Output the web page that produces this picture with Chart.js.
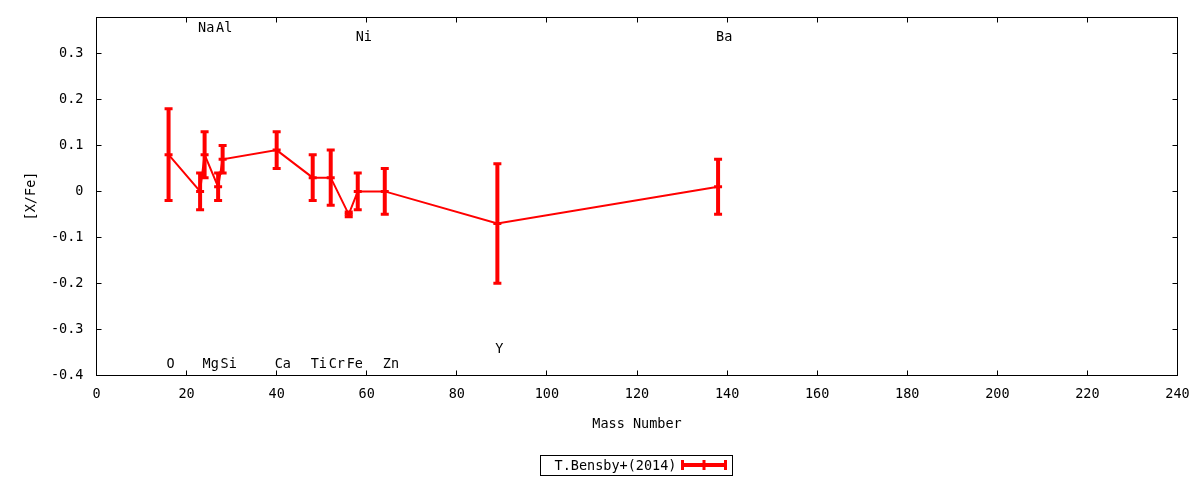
<!DOCTYPE html>
<html lang="en">
<head>
  <meta charset="UTF-8">
  <title>[X/Fe] vs Mass Number</title>
  <style>
    html, body { margin: 0; padding: 0; background: #fff; }
    #wrap { width: 1200px; height: 480px; }
  </style>
</head>
<body>
  <div id="wrap"><canvas id="chart" width="1200" height="480"></canvas></div>
  <script src="https://cdn.jsdelivr.net/npm/chart.js"></script>
  <script>
    // data
    const elements   = ['O', 'Na', 'Mg', 'Al', 'Si', 'Ca', 'Ti', 'Cr', 'Fe', 'Ni', 'Zn', 'Y', 'Ba'];
    const masses     = [16, 23, 24, 27, 28, 40, 48, 52, 56, 58, 64, 89, 138];
    const abundances = [0.08, 0.00, 0.08, 0.01, 0.07, 0.09, 0.03, 0.03, -0.05, 0.00, 0.00, -0.07, 0.01];
    const errors     = [0.10, 0.04, 0.05, 0.03, 0.03, 0.04, 0.05, 0.06, 0.005, 0.04, 0.05, 0.13, 0.06];
    const labelYs    = [-0.377, 0.355, -0.377, 0.355, -0.377, -0.377, -0.377, -0.377, -0.377, 0.335, -0.377, -0.345, 0.335];
    const xTicks      = [0, 20, 40, 60, 80, 100, 120, 140, 160, 180, 200, 220, 240];
    const yTicks      = [-0.4, -0.3, -0.2, -0.1, 0, 0.1, 0.2, 0.3];
    const yTickLabels = ['-0.4', '-0.3', '-0.2', '-0.1', '0', '0.1', '0.2', '0.3'];
    const seriesName = 'T.Bensby+(2014)';

    const RED = '#ff0000';
    const FONT = '13.5px "DejaVu Sans Mono"';

    Chart.defaults.font.family = '"DejaVu Sans Mono", monospace';
    Chart.defaults.font.size = 13.5;
    Chart.defaults.color = '#000';

    const gnuplotLook = {
      id: 'gnuplotLook',
      beforeDatasetsDraw(chart) {
        const { ctx, scales: { x, y } } = chart;
        ctx.save();
        // error bars
        ctx.strokeStyle = RED;
        masses.forEach((m, i) => {
          const px = x.getPixelForValue(m);
          const yHi = y.getPixelForValue(abundances[i] + errors[i]);
          const yLo = y.getPixelForValue(abundances[i] - errors[i]);
          ctx.lineWidth = 4;
          ctx.beginPath();
          ctx.moveTo(px, yHi); ctx.lineTo(px, yLo);
          ctx.stroke();
          ctx.lineWidth = 3;
          ctx.beginPath();
          ctx.moveTo(px - 4, yHi); ctx.lineTo(px + 4, yHi);
          ctx.moveTo(px - 4, yLo); ctx.lineTo(px + 4, yLo);
          ctx.stroke();
        });
        ctx.restore();
      },
      afterDraw(chart) {
        const { ctx, chartArea: a, scales: { x, y } } = chart;
        const snap = v => Math.floor(v) + 0.5;
        ctx.save();
        // frame
        const x0 = snap(a.left), x1 = snap(a.right);
        const y0 = snap(a.top), y1 = snap(a.bottom);
        ctx.strokeStyle = '#000';
        ctx.lineWidth = 1;
        ctx.strokeRect(x0, y0, x1 - x0, y1 - y0);
        // inward ticks, mirrored
        ctx.beginPath();
        xTicks.forEach(v => {
          const px = Math.min(snap(x.getPixelForValue(v)), x1);
          ctx.moveTo(px, y1); ctx.lineTo(px, y1 - 5);
          ctx.moveTo(px, y0); ctx.lineTo(px, y0 + 5);
        });
        yTicks.forEach(v => {
          const py = Math.min(snap(y.getPixelForValue(v)), y1);
          ctx.moveTo(x0, py); ctx.lineTo(x0 + 5, py);
          ctx.moveTo(x1, py); ctx.lineTo(x1 - 5, py);
        });
        ctx.stroke();

        // element names
        ctx.fillStyle = '#000';
        ctx.font = FONT;
        ctx.textAlign = 'left';
        ctx.textBaseline = 'middle';
        elements.forEach((el, i) => {
          ctx.fillText(el, x.getPixelForValue(masses[i]) - 2, y.getPixelForValue(labelYs[i]));
        });

        // legend box
        const cx = (a.left + a.right) / 2;
        const boxW = 192, boxH = 20, boxTop = 455;
        const bx = Math.round(cx - boxW / 2 - 1) + 0.5;
        ctx.lineWidth = 1;
        ctx.strokeRect(bx, boxTop + 0.5, boxW, boxH);
        ctx.fillText(seriesName, bx + 14, boxTop + boxH / 2 + 1);
        const ly = boxTop + boxH / 2;
        const l0 = bx + 142, l1 = bx + 185;
        ctx.strokeStyle = RED;
        ctx.lineWidth = 4;
        ctx.beginPath();
        ctx.moveTo(l0, ly); ctx.lineTo(l1, ly);
        ctx.stroke();
        ctx.lineWidth = 3;
        ctx.beginPath();
        [l0, (l0 + l1) / 2, l1].forEach(lx => {
          ctx.moveTo(lx, ly - 5); ctx.lineTo(lx, ly + 5);
        });
        ctx.stroke();
        ctx.restore();
      }
    };

    new Chart(document.getElementById('chart'), {
      type: 'line',
      data: {
        datasets: [{
          label: seriesName,
          data: masses.map((m, i) => ({ x: m, y: abundances[i] })),
          borderColor: RED,
          backgroundColor: RED,
          borderWidth: 2,
          tension: 0,
          pointStyle: 'line',
          pointRadius: 4,
          pointBorderWidth: 3,
          pointBorderColor: RED,
          pointHoverRadius: 4
        }]
      },
      options: {
        responsive: false,
        animation: false,
        events: [],
        layout: { padding: { left: 0, right: 22.5, top: 17, bottom: 40 } },
        plugins: { legend: { display: false }, tooltip: { enabled: false } },
        scales: {
          x: {
            type: 'linear',
            min: 0, max: 240,
            afterBuildTicks: s => { s.ticks = xTicks.map(v => ({ value: v })); },
            afterFit: s => { s.height = 65; s.paddingLeft = 0; s.paddingRight = 0; },
            grid: { display: false, drawTicks: false },
            border: { display: false },
            ticks: { padding: 11, maxRotation: 0, autoSkip: false, callback: v => String(v) },
            title: { display: true, text: 'Mass Number', padding: { top: 0, bottom: 7 } }
          },
          y: {
            type: 'linear',
            min: -0.4, max: 0.38,
            afterBuildTicks: s => { s.ticks = yTicks.map(v => ({ value: v })); },
            afterFit: s => { s.width = 96.5; s.paddingTop = 0; s.paddingBottom = 0; },
            grid: { display: false, drawTicks: false },
            border: { display: false },
            ticks: { padding: 13, autoSkip: false, callback: v => yTickLabels[yTicks.indexOf(v)] },
            title: { display: true, text: '[X/Fe]', padding: { top: 23, bottom: 0 } }
          }
        }
      },
      plugins: [gnuplotLook]
    });
  </script>
</body>
</html>
